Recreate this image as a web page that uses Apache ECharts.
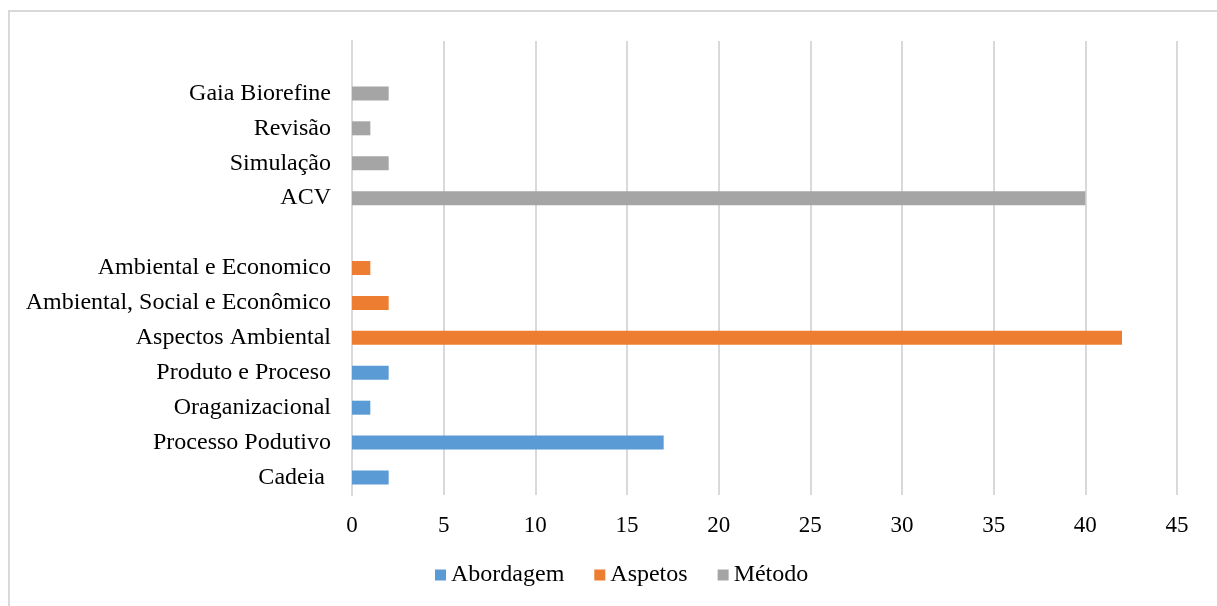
<!DOCTYPE html>
<html>
<head>
<meta charset="utf-8">
<script src="https://cdn.jsdelivr.net/npm/echarts@6/dist/echarts.min.js"></script>
<style>
  html, body { margin: 0; padding: 0; background: #fff; }
  #frame { position: absolute; left: 8px; top: 10px; width: 1220px; height: 610px; border: 2px solid #d9d9d9; box-sizing: border-box; }
  #chart { position: absolute; left: 0; top: 0; width: 1217px; height: 606px; }
</style>
</head>
<body>
<div id="frame"></div>
<div id="chart"></div>
<script>
// Categories, bottom to top (blank entries leave gaps between groups)
const categories = [
  'Cadeia ', 'Processo Podutivo', 'Oraganizacional', 'Produto e Proceso',
  'Aspectos Ambiental', 'Ambiental, Social e Econômico', 'Ambiental e Economico',
  ' ', 'ACV', 'Simulação', 'Revisão', 'Gaia Biorefine', '  '
];
const abordagem = [2, 17, 1, 2, null, null, null, null, null, null, null, null, null];
const aspetos   = [null, null, null, null, 42, 2, 1, null, null, null, null, null, null];
const metodo    = [null, null, null, null, null, null, null, null, 40, 2, 1, 2, null];
const xTicks = { min: 0, max: 45, interval: 5 };

const font = '"Liberation Serif", "Times New Roman", serif';
const chart = echarts.init(document.getElementById('chart'), null, { renderer: 'canvas' });

function bar(name, data, color) {
  return {
    name, type: 'bar', stack: 'all', data, barWidth: 14,
    itemStyle: { color },
    emphasis: { disabled: true }
  };
}

chart.setOption({
  animation: false,
  textStyle: { fontFamily: font },
  grid: { left: 352, right: 40, top: 41, bottom: 111, containLabel: false },
  xAxis: {
    type: 'value', min: xTicks.min, max: xTicks.max, interval: xTicks.interval,
    axisLine: { show: false }, axisTick: { show: false },
    splitLine: { show: true, lineStyle: { color: '#d9d9d9', width: 2 } },
    axisLabel: { color: '#000', fontSize: 23, fontFamily: font, margin: 19 }
  },
  yAxis: {
    type: 'category', data: categories,
    axisLine: { show: true, lineStyle: { color: '#d9d9d9', width: 2 } },
    axisTick: { show: false },
    axisLabel: { color: '#000', fontSize: 24, fontFamily: font, margin: 21, interval: 0, padding: [6, 0, 0, 0] }
  },
  legend: {
    bottom: 14, left: 430,
    itemWidth: 11, itemHeight: 11, itemGap: 30,
    icon: 'rect',
    textStyle: { color: '#000', fontSize: 24, fontFamily: font, padding: [2, 0, 0, 0] },
    data: ['Abordagem', 'Aspetos', 'Método']
  },
  series: [
    bar('Abordagem', abordagem, '#5b9bd5'),
    bar('Aspetos', aspetos, '#ed7d31'),
    bar('Método', metodo, '#a5a5a5')
  ]
});
</script>
</body>
</html>
